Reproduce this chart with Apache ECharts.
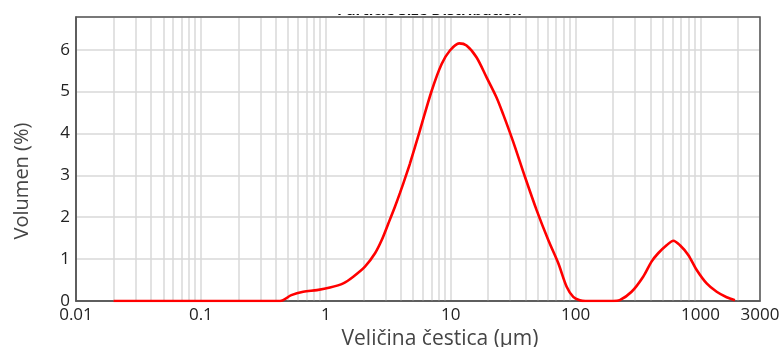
<!DOCTYPE html>
<html>
<head>
<meta charset="utf-8">
<script src="https://cdn.jsdelivr.net/npm/echarts@6/dist/echarts.min.js"></script>
<style>html,body{margin:0;padding:0;background:#fff;}#c{width:783px;height:347px;}</style>
</head>
<body>
<div id="c"></div>
<script>
// Particle size (µm)
const sizes = [0.02, 0.43, 0.53, 0.66, 0.85, 1.08, 1.38, 1.66, 2.06, 2.48, 2.8, 3.17, 3.58, 3.93, 4.44, 4.72, 5.67, 7.05, 8.47, 9.87, 11.7, 13.4, 16.1, 19.4, 23.3, 26.4, 31.7, 39.4, 48.8, 60.6, 72.8, 84.9, 95.9, 108, 120, 200, 226, 281, 348, 406, 459, 536, 607, 686, 799, 934, 1122, 1350, 1622, 1890];
// Volume (%)
const volume = [0, 0, 0.14, 0.22, 0.26, 0.32, 0.42, 0.58, 0.82, 1.14, 1.45, 1.85, 2.25, 2.58, 3.04, 3.28, 4.07, 5.02, 5.66, 5.98, 6.15, 6.10, 5.82, 5.34, 4.86, 4.45, 3.80, 2.96, 2.17, 1.45, 0.90, 0.34, 0.10, 0.02, 0, 0, 0.02, 0.22, 0.58, 0.94, 1.14, 1.33, 1.44, 1.33, 1.10, 0.74, 0.42, 0.22, 0.09, 0.02];
// Log grid lines (2..9 per decade)
const gridValues = [0.02,0.03,0.04,0.05,0.06,0.07,0.08,0.09,0.2,0.3,0.4,0.5,0.6,0.7,0.8,0.9,2,3,4,5,6,7,8,9,20,30,40,50,60,70,80,90,200,300,400,500,600,700,800,900,2000];
const xMin = 0.01, xMax = 3000;
const yTicks = [0, 1, 2, 3, 4, 5, 6];
const titleText = 'Particle Size Distribution';
const xName = 'Veličina čestica (µm)';
const yName = 'Volumen (%)';

const chart = echarts.init(document.getElementById('c'));
const FONT = 'Open Sans';
chart.setOption({
  animation: false,
  textStyle: {fontFamily: FONT},
  graphic: [
    {type: 'text', left: 337, top: 3, z: 1, style: {text: titleText, font: 'bold 15px "Open Sans"', fill: '#111'}},
    {type: 'rect', shape: {x: 0, y: 0, width: 783, height: 14}, z: 2, style: {fill: '#fff'}}
  ],
  grid: {left: 76, right: 23, top: 17, bottom: 46, containLabel: false, outerBoundsMode: 'none',
    show: true, borderColor: '#555', borderWidth: 1.5, backgroundColor: 'transparent', z: 3},
  xAxis: {
    type: 'log', logBase: 10, min: xMin, max: xMax,
    name: xName, nameLocation: 'middle', nameGap: 27,
    nameTextStyle: {fontSize: 21, color: '#444', fontFamily: FONT, padding: [0, 0, 0, 44]},
    axisLine: {show: true, lineStyle: {color: '#555', width: 1.5}},
    axisTick: {show: false},
    axisLabel: {fontSize: 17, color: '#222', margin: 6, fontFamily: FONT,
      formatter: v => String(+v.toPrecision(6))},
    splitLine: {show: true, lineStyle: {color: '#d9d9d9', width: 1.5}}
  },
  yAxis: {
    type: 'value', min: 0, max: 6.78, interval: 1,
    name: yName, nameLocation: 'middle', nameGap: 44,
    nameTextStyle: {fontSize: 20, color: '#444', fontFamily: FONT, padding: [0, 44, 0, 0]},
    axisLine: {show: true, lineStyle: {color: '#555', width: 1.5}},
    axisTick: {show: false},
    axisLabel: {fontSize: 17, color: '#222', margin: 6, fontFamily: FONT, showMaxLabel: false,
      formatter: v => yTicks.indexOf(v) >= 0 ? String(v) : ''},
    splitLine: {show: true, lineStyle: {color: '#d9d9d9', width: 1.5}}
  },
  series: [{
    type: 'line',
    data: sizes.map((s, i) => [s, volume[i]]),
    showSymbol: false,
    smooth: 0.3,
    z: 4,
    lineStyle: {color: '#ff0000', width: 2.6},
    markLine: {
      silent: true, symbol: 'none', z: 1, animation: false,
      label: {show: false},
      lineStyle: {color: '#d9d9d9', width: 1.5, type: 'solid'},
      data: gridValues.map(v => ({xAxis: v}))
    }
  }]
});
</script>
</body>
</html>
